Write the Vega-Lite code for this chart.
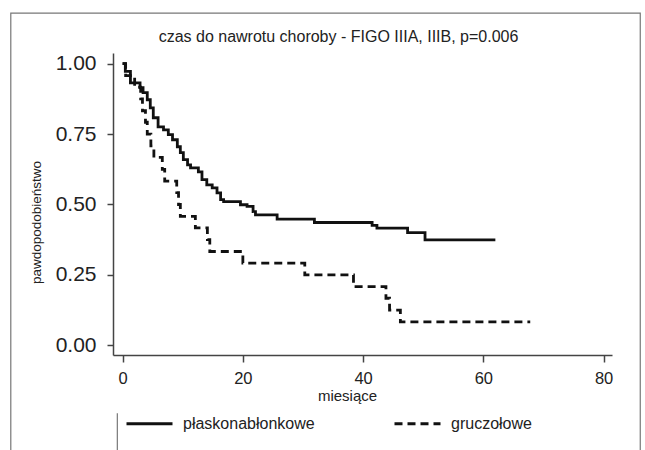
{
  "$schema": "https://vega.github.io/schema/vega-lite/v6.json",
  "width": 499,
  "height": 302,
  "autosize": "none",
  "padding": {"left": 113, "top": 53, "right": 33, "bottom": 95},
  "background": "white",
  "title": {
    "text": "czas do nawrotu choroby - FIGO IIIA, IIIB, p=0.006",
    "fontSize": 16,
    "font": "Liberation Sans",
    "fontWeight": "normal",
    "color": "#222",
    "frame": "group",
    "offset": -32,
    "dx": -24,
    "anchor": "middle"
  },
  "config": {
    "view": {"stroke": null},
    "font": "Liberation Sans",
    "axis": {
      "grid": false,
      "domainColor": "#444",
      "tickColor": "#444",
      "domainWidth": 1.5,
      "tickWidth": 1.5,
      "labelColor": "#222",
      "titleColor": "#222",
      "titleFontWeight": "normal",
      "labelFont": "Liberation Sans",
      "titleFont": "Liberation Sans"
    }
  },
  "datasets": {
    "km": [
      {"grupa": "płaskonabłonkowe", "t": 0, "s": 1.0},
      {"grupa": "płaskonabłonkowe", "t": 0.45, "s": 0.973},
      {"grupa": "płaskonabłonkowe", "t": 1.3, "s": 0.932},
      {"grupa": "płaskonabłonkowe", "t": 2.9, "s": 0.915},
      {"grupa": "płaskonabłonkowe", "t": 3.4, "s": 0.897},
      {"grupa": "płaskonabłonkowe", "t": 4.1, "s": 0.872},
      {"grupa": "płaskonabłonkowe", "t": 4.6, "s": 0.843},
      {"grupa": "płaskonabłonkowe", "t": 5.1, "s": 0.808},
      {"grupa": "płaskonabłonkowe", "t": 5.9, "s": 0.776},
      {"grupa": "płaskonabłonkowe", "t": 6.8, "s": 0.765},
      {"grupa": "płaskonabłonkowe", "t": 7.6, "s": 0.748},
      {"grupa": "płaskonabłonkowe", "t": 8.3, "s": 0.73},
      {"grupa": "płaskonabłonkowe", "t": 9.1, "s": 0.705},
      {"grupa": "płaskonabłonkowe", "t": 9.6, "s": 0.684},
      {"grupa": "płaskonabłonkowe", "t": 10.1, "s": 0.659},
      {"grupa": "płaskonabłonkowe", "t": 10.8, "s": 0.641},
      {"grupa": "płaskonabłonkowe", "t": 11.3, "s": 0.63},
      {"grupa": "płaskonabłonkowe", "t": 12.6, "s": 0.616},
      {"grupa": "płaskonabłonkowe", "t": 13.2, "s": 0.588},
      {"grupa": "płaskonabłonkowe", "t": 14.0, "s": 0.57},
      {"grupa": "płaskonabłonkowe", "t": 14.9, "s": 0.559},
      {"grupa": "płaskonabłonkowe", "t": 15.7, "s": 0.541},
      {"grupa": "płaskonabłonkowe", "t": 16.3, "s": 0.517},
      {"grupa": "płaskonabłonkowe", "t": 16.8, "s": 0.51},
      {"grupa": "płaskonabłonkowe", "t": 19.6, "s": 0.499},
      {"grupa": "płaskonabłonkowe", "t": 20.7, "s": 0.493},
      {"grupa": "płaskonabłonkowe", "t": 21.7, "s": 0.475},
      {"grupa": "płaskonabłonkowe", "t": 22.1, "s": 0.463},
      {"grupa": "płaskonabłonkowe", "t": 25.7, "s": 0.448},
      {"grupa": "płaskonabłonkowe", "t": 31.9, "s": 0.436},
      {"grupa": "płaskonabłonkowe", "t": 41.5, "s": 0.426},
      {"grupa": "płaskonabłonkowe", "t": 42.3, "s": 0.416},
      {"grupa": "płaskonabłonkowe", "t": 47.4, "s": 0.4},
      {"grupa": "płaskonabłonkowe", "t": 50.3, "s": 0.374},
      {"grupa": "płaskonabłonkowe", "t": 62.0, "s": 0.374},
      {"grupa": "gruczołowe", "t": 0, "s": 1.0},
      {"grupa": "gruczołowe", "t": 0.5, "s": 0.958},
      {"grupa": "gruczołowe", "t": 2.0, "s": 0.917},
      {"grupa": "gruczołowe", "t": 3.0, "s": 0.875},
      {"grupa": "gruczołowe", "t": 3.3, "s": 0.833},
      {"grupa": "gruczołowe", "t": 3.8, "s": 0.792},
      {"grupa": "gruczołowe", "t": 4.1, "s": 0.75},
      {"grupa": "gruczołowe", "t": 4.7, "s": 0.708},
      {"grupa": "gruczołowe", "t": 5.2, "s": 0.667},
      {"grupa": "gruczołowe", "t": 6.6, "s": 0.625},
      {"grupa": "gruczołowe", "t": 7.0, "s": 0.583},
      {"grupa": "gruczołowe", "t": 9.0, "s": 0.542},
      {"grupa": "gruczołowe", "t": 9.3, "s": 0.5},
      {"grupa": "gruczołowe", "t": 9.6, "s": 0.458},
      {"grupa": "gruczołowe", "t": 12.1, "s": 0.417},
      {"grupa": "gruczołowe", "t": 14.1, "s": 0.375},
      {"grupa": "gruczołowe", "t": 14.5, "s": 0.333},
      {"grupa": "gruczołowe", "t": 20.0, "s": 0.292},
      {"grupa": "gruczołowe", "t": 30.3, "s": 0.25},
      {"grupa": "gruczołowe", "t": 38.4, "s": 0.208},
      {"grupa": "gruczołowe", "t": 43.8, "s": 0.167},
      {"grupa": "gruczołowe", "t": 44.4, "s": 0.125},
      {"grupa": "gruczołowe", "t": 46.2, "s": 0.083},
      {"grupa": "gruczołowe", "t": 67.8, "s": 0.083}
    ]
  },
  "layer": [
    {
      "data": {"values": [{}]},
      "mark": {"type": "rect", "fill": null, "stroke": "#777", "strokeWidth": 1.2, "clip": false},
      "encoding": {
        "x": {"datum": -18.6, "type": "quantitative", "scale": {"domain": [-1.6, 81.4], "nice": false, "zero": false}},
        "x2": {"datum": 86.1},
        "y": {"datum": 1.1795, "type": "quantitative", "scale": {"domain": [-0.0345, 1.038], "nice": false, "zero": false}},
        "y2": {"datum": -0.5}
      }
    },
    {
      "data": {"values": [{}]},
      "mark": {"type": "rule", "stroke": "#777", "strokeWidth": 1.2, "clip": false},
      "encoding": {
        "x": {"datum": -0.88, "type": "quantitative"},
        "y": {"datum": -0.241, "type": "quantitative"},
        "y2": {"datum": -0.372}
      }
    },
    {
      "data": {"name": "km"},
      "mark": {"type": "line", "interpolate": "step-after", "strokeWidth": 2.8, "color": "#111"},
      "encoding": {
        "x": {
          "field": "t",
          "type": "quantitative",
          "scale": {"domain": [-1.6, 81.4], "nice": false, "zero": false},
          "axis": {
            "values": [0, 20, 40, 60, 80],
            "title": "miesiące",
            "tickSize": 7,
            "labelPadding": 8,
            "labelFontSize": 16.5,
            "titleFontSize": 15,
            "titlePadding": 2,
            "titleX": 234,
            "labelFlush": false
          }
        },
        "y": {
          "field": "s",
          "type": "quantitative",
          "scale": {"domain": [-0.0345, 1.038], "nice": false, "zero": false},
          "axis": {
            "values": [0, 0.25, 0.5, 0.75, 1],
            "format": ".2f",
            "title": "pawdopodobieństwo",
            "tickSize": 6,
            "labelPadding": 11,
            "labelFontSize": 21,
            "titleFontSize": 13.5,
            "titleX": -70,
            "titleY": 169,
            "titleBaseline": "bottom"
          }
        },
        "strokeDash": {
          "field": "grupa",
          "type": "nominal",
          "scale": {"domain": ["płaskonabłonkowe", "gruczołowe"], "range": [[1, 0], [8, 5]]},
          "legend": {
            "title": null,
            "orient": "none",
            "legendX": 12,
            "legendY": 346,
            "direction": "horizontal",
            "symbolType": "stroke",
            "symbolSize": 2116,
            "symbolStrokeWidth": 2.8,
            "symbolStrokeColor": "#111",
            "labelFontSize": 16,
            "labelOffset": 9,
            "columnPadding": 73,
            "labelColor": "#222",
            "labelFont": "Liberation Sans"
          }
        }
      }
    }
  ]
}
